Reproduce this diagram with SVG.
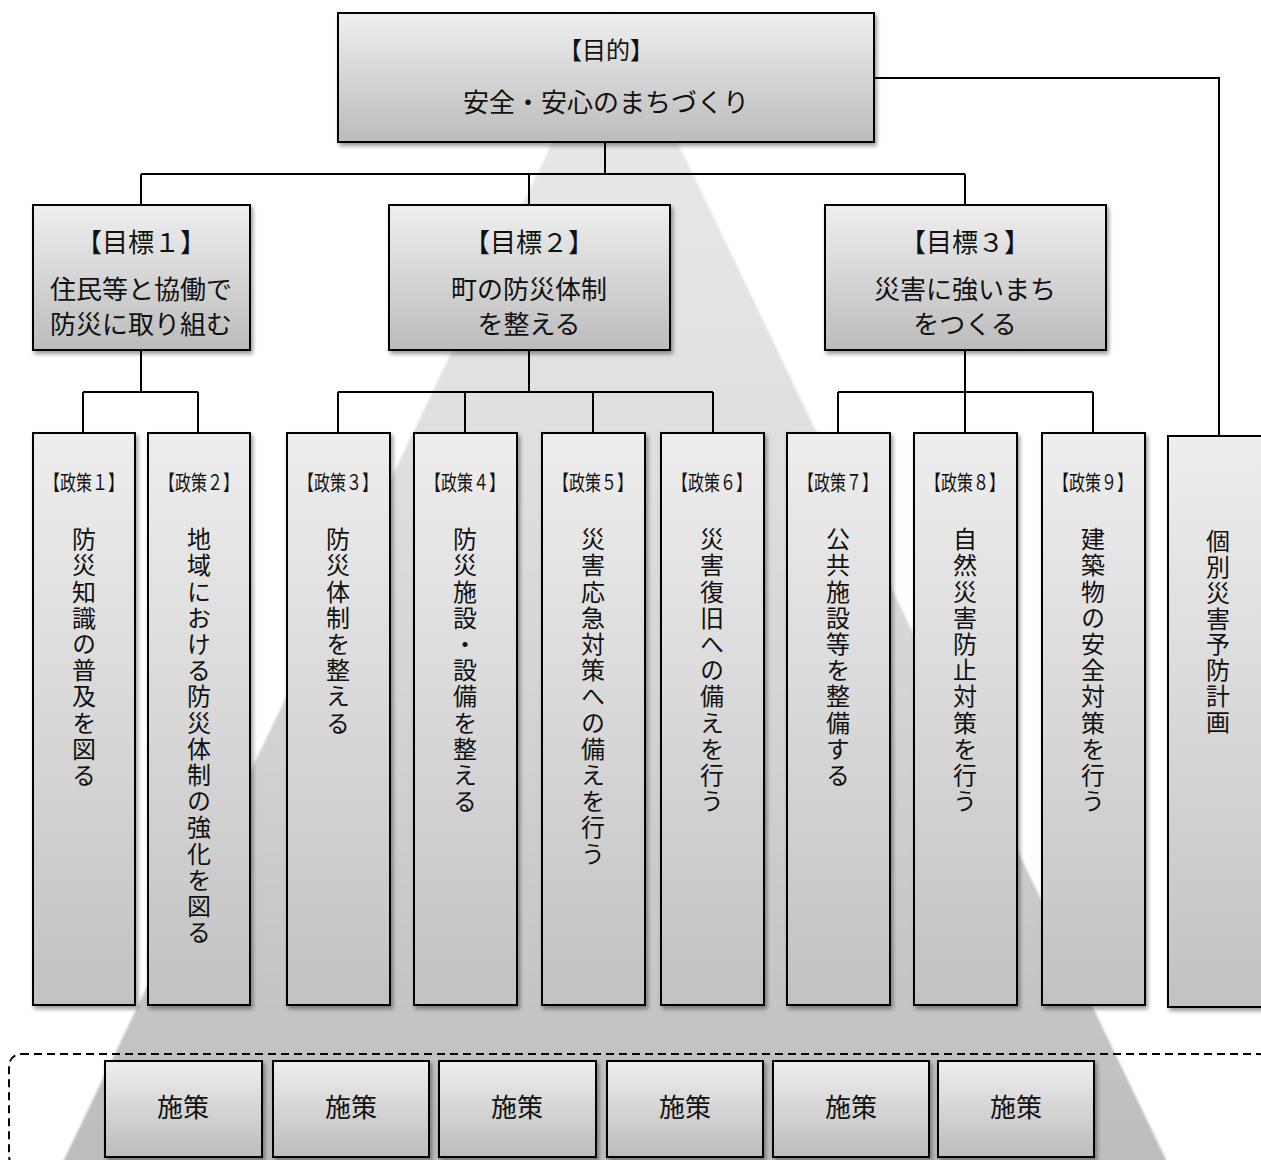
<svg xmlns="http://www.w3.org/2000/svg" width="1261" height="1160" viewBox="0 0 1261 1160">
<style>
.bx{stroke:#000;stroke-width:2;fill:url(#gBox);filter:url(#sh)}
.pb{stroke:#000;stroke-width:2;fill:url(#gPol);filter:url(#sh)}
.t{font-family:"Noto Sans CJK JP","Noto Sans",sans-serif;fill:#111;text-anchor:middle}
.t26{font-size:26px}
.t24{font-size:24px}
.lb{font-size:21px}
.v{font-family:"Noto Sans CJK JP","Noto Sans",sans-serif;fill:#111;font-size:24px;writing-mode:vertical-rl;letter-spacing:2.2px}
.cn{stroke:#000;stroke-width:2;fill:none}
</style>
<defs>
<linearGradient id="gBox" x1="0" y1="0" x2="0" y2="1"><stop offset="0" stop-color="#efefef"/><stop offset="1" stop-color="#bcbcbc"/></linearGradient>
<linearGradient id="gPol" x1="0" y1="0" x2="0" y2="1"><stop offset="0" stop-color="#eeeeee"/><stop offset="1" stop-color="#c2c2c2"/></linearGradient>
<linearGradient id="gTri" gradientUnits="userSpaceOnUse" x1="0" y1="142" x2="0" y2="1160"><stop offset="0" stop-color="#e7e7e7"/><stop offset="0.35" stop-color="#dedede"/><stop offset="1" stop-color="#bdbdbd"/></linearGradient>
<filter id="sh" x="-10%" y="-10%" width="130%" height="130%"><feDropShadow dx="2" dy="3" stdDeviation="2" flood-color="#000" flood-opacity="0.4"/></filter>
<filter id="soft"><feGaussianBlur stdDeviation="0.8"/></filter>
</defs>
<rect width="1261" height="1160" fill="#fff"/>
<polygon points="615,12 1170,1168 60,1168" fill="url(#gTri)" filter="url(#soft)"/>
<rect x="9" y="1054" width="1262" height="114" rx="12" fill="none" stroke="#000" stroke-width="2" stroke-dasharray="8,5"/>
<g id="connectors">
<path class="cn" d="M605,142V174M141,174H965M141,174V205M529,174V205M965,174V205"/>
<path class="cn" d="M874,78H1219V436"/>
<path class="cn" d="M141,350V392M83,392H198M83,392V433M198,392V433"/>
<path class="cn" d="M529,350V392M338,392H713M338,392V433M465,392V433M593,392V433M713,392V433"/>
<path class="cn" d="M965,350V392M838,392H1093M838,392V433M965,392V433M1093,392V433"/>
</g>
<g id="purpose"><rect class="bx" x="338" y="13" width="536" height="129"/>
<text class="t t24" x="606" y="59">【目的】</text>
<text class="t t26" x="606" y="112">安全・安心のまちづくり</text></g>
<g id="goal1"><rect class="bx" x="33" y="205" width="217" height="145"/>
<text class="t t26" x="141" y="252">【目標１】</text>
<text class="t t26" x="141" y="299">住民等と協働で</text>
<text class="t t26" x="141" y="334">防災に取り組む</text></g>
<g id="goal2"><rect class="bx" x="389" y="205" width="281" height="145"/>
<text class="t t26" x="529" y="252">【目標２】</text>
<text class="t t26" x="529" y="299">町の防災体制</text>
<text class="t t26" x="529" y="334">を整える</text></g>
<g id="goal3"><rect class="bx" x="825" y="205" width="281" height="145"/>
<text class="t t26" x="965" y="252">【目標３】</text>
<text class="t t26" x="965" y="299">災害に強いまち</text>
<text class="t t26" x="965" y="334">をつくる</text></g>
<g id="policy1"><rect class="pb" x="33" y="433" width="102" height="572"/>
<text class="t lb" x="84" y="490" textLength="80" lengthAdjust="spacingAndGlyphs">【政策１】</text>
<text class="v" x="84" y="527">防災知識の普及を図る</text></g>
<g id="policy2"><rect class="pb" x="148" y="433" width="102" height="572"/>
<text class="t lb" x="199" y="490" textLength="80" lengthAdjust="spacingAndGlyphs">【政策２】</text>
<text class="v" x="199" y="527">地域における防災体制の強化を図る</text></g>
<g id="policy3"><rect class="pb" x="287" y="433" width="103" height="572"/>
<text class="t lb" x="338" y="490" textLength="80" lengthAdjust="spacingAndGlyphs">【政策３】</text>
<text class="v" x="338" y="527">防災体制を整える</text></g>
<g id="policy4"><rect class="pb" x="414" y="433" width="103" height="572"/>
<text class="t lb" x="465" y="490" textLength="80" lengthAdjust="spacingAndGlyphs">【政策４】</text>
<text class="v" x="465" y="527">防災施設・設備を整える</text></g>
<g id="policy5"><rect class="pb" x="542" y="433" width="103" height="572"/>
<text class="t lb" x="593" y="490" textLength="80" lengthAdjust="spacingAndGlyphs">【政策５】</text>
<text class="v" x="593" y="527">災害応急対策への備えを行う</text></g>
<g id="policy6"><rect class="pb" x="661" y="433" width="103" height="572"/>
<text class="t lb" x="712" y="490" textLength="80" lengthAdjust="spacingAndGlyphs">【政策６】</text>
<text class="v" x="712" y="527">災害復旧への備えを行う</text></g>
<g id="policy7"><rect class="pb" x="787" y="433" width="103" height="572"/>
<text class="t lb" x="838" y="490" textLength="80" lengthAdjust="spacingAndGlyphs">【政策７】</text>
<text class="v" x="838" y="527">公共施設等を整備する</text></g>
<g id="policy8"><rect class="pb" x="914" y="433" width="103" height="572"/>
<text class="t lb" x="965" y="490" textLength="80" lengthAdjust="spacingAndGlyphs">【政策８】</text>
<text class="v" x="965" y="527">自然災害防止対策を行う</text></g>
<g id="policy9"><rect class="pb" x="1042" y="433" width="103" height="572"/>
<text class="t lb" x="1093" y="490" textLength="80" lengthAdjust="spacingAndGlyphs">【政策９】</text>
<text class="v" x="1093" y="527">建築物の安全対策を行う</text></g>
<g id="plan"><rect class="pb" x="1168" y="436" width="110" height="571"/>
<text class="v" x="1218" y="529" style="letter-spacing:1.8px">個別災害予防計画</text></g>
<g id="measure1"><rect class="bx" x="105" y="1061" width="157" height="96"/><text class="t t26" x="183" y="1117">施策</text></g>
<g id="measure2"><rect class="bx" x="273" y="1061" width="156" height="96"/><text class="t t26" x="351" y="1117">施策</text></g>
<g id="measure3"><rect class="bx" x="439" y="1061" width="157" height="96"/><text class="t t26" x="517" y="1117">施策</text></g>
<g id="measure4"><rect class="bx" x="607" y="1061" width="156" height="96"/><text class="t t26" x="685" y="1117">施策</text></g>
<g id="measure5"><rect class="bx" x="773" y="1061" width="156" height="96"/><text class="t t26" x="851" y="1117">施策</text></g>
<g id="measure6"><rect class="bx" x="938" y="1061" width="156" height="96"/><text class="t t26" x="1016" y="1117">施策</text></g>
</svg>
